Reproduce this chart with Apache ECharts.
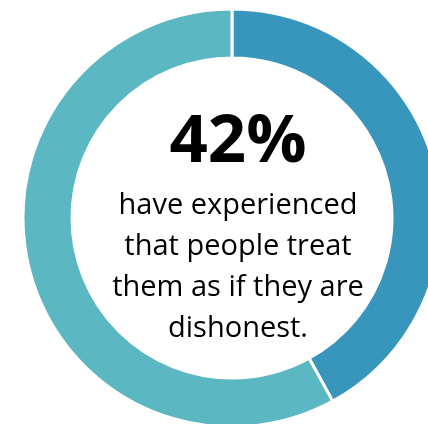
<!DOCTYPE html>
<html><head><meta charset="utf-8">
<script src="https://cdn.jsdelivr.net/npm/echarts@6/dist/echarts.min.js"></script>
<style>html,body{margin:0;padding:0;background:#fff}#c{width:428px;height:424px}</style>
</head><body><div id="c"></div>
<script>
const categories = ['Yes', 'No'];
const values = [42, 58];
const colors = ['#3896bd', '#5bb7c1'];
const headline = '42%';
const bodyLines = ['have experienced', 'that people treat', 'them as if they are', 'dishonest.'];

const chart = echarts.init(document.getElementById('c'), null, {renderer: 'canvas'});
chart.setOption({
  animation: false,
  series: [{
    type: 'pie',
    center: [232, 218],
    radius: [160, 209],
    startAngle: 90,
    clockwise: true,
    silent: true,
    label: {show: false},
    labelLine: {show: false},
    itemStyle: {borderColor: '#fff', borderWidth: 3},
    data: categories.map((c, i) => ({name: c, value: values[i], itemStyle: {color: colors[i]}}))
  }],
  graphic: [
    {type: 'text', x: 238, y: 143, style: {text: headline, font: 'bold 67px "Open Sans"', fill: '#000', align: 'center', verticalAlign: 'middle', shadowColor: 'rgba(0,0,0,0.45)', shadowBlur: 4, shadowOffsetX: 2, shadowOffsetY: 2}},
    {type: 'text', x: 238, y: 185, style: {text: bodyLines.join('\n'), font: '29px "Open Sans"', lineHeight: 41, fill: '#000', align: 'center', verticalAlign: 'top'}}
  ]
});
</script></body></html>
